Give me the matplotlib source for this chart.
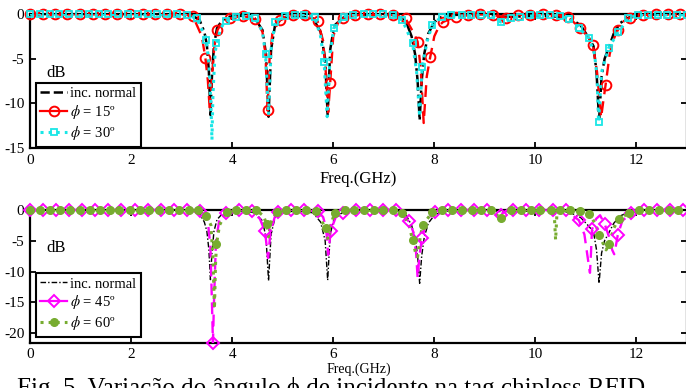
import matplotlib
matplotlib.use("Agg")
import matplotlib.pyplot as plt
from matplotlib.lines import Line2D

plt.rcParams["font.family"] = ["Liberation Serif", "DejaVu Serif"]
plt.rcParams["mathtext.fontset"] = "stix"
plt.rcParams["axes.unicode_minus"] = False

# --- data (Freq in GHz, response in dB) ---
blk_f = [0, 3.0, 3.2, 3.35, 3.45, 3.5, 3.54, 3.57, 3.60, 3.64, 3.7, 3.8, 3.95, 4.2, 4.45, 4.6,
         4.67, 4.72, 4.77, 4.85, 5.0, 5.3, 5.6, 5.75, 5.84, 5.89, 5.94, 6.02, 6.2, 6.5, 7.0, 7.3,
         7.45, 7.55, 7.62, 7.67, 7.71, 7.75, 7.8, 7.88, 8.0, 8.15, 8.4, 9.0, 9.3, 9.6, 10.0, 10.5,
         10.7, 10.9, 11.06, 11.15, 11.21, 11.26, 11.31, 11.37, 11.45, 11.55, 11.68, 11.85, 12.1, 13.0]
blk_db = [0, 0, -0.2, -0.6, -2.0, -3.5, -6.5, -11.3, -7.0, -3.5, -1.6, -0.7, -0.3, -0.2, -0.5, -1.8,
          -4.5, -11.5, -4.0, -1.2, -0.4, -0.2, -0.5, -2.0, -5.0, -11.4, -4.0, -1.3, -0.4, -0.1, 0, -0.2,
          -1.0, -2.5, -4.5, -7.5, -11.9, -7.5, -4.5, -2.2, -0.9, -0.3, -0.1, 0, -0.3, -0.3, -0.2, -0.3,
          -0.5, -1.3, -2.7, -3.6, -6.5, -11.9, -7.0, -5.0, -3.8, -2.2, -1.0, -0.4, -0.1, 0]

red_f = [0, 3.0, 3.22, 3.4, 3.47, 3.52, 3.56, 3.6, 3.65, 3.71, 3.8, 3.96, 4.21, 4.46, 4.6, 4.66,
         4.70, 4.74, 4.8, 4.95, 5.2, 5.45, 5.69, 5.8, 5.86, 5.9, 5.94, 6.0, 6.1, 6.19, 6.44, 7.18,
         7.43, 7.6, 7.67, 7.73, 7.79, 7.85, 7.92, 8.0, 8.1, 8.17, 8.42, 8.91, 9.16, 9.41, 9.65, 10.15,
         10.4, 10.64, 10.89, 11.05, 11.14, 11.22, 11.3, 11.35, 11.39, 11.47, 11.55, 11.63, 11.75, 11.88,
         12.13, 13.0]
red_db = [0, 0, -0.2, -2.5, -4.9, -7.5, -11.0, -7.0, -3.5, -1.8, -0.9, -0.5, -0.2, -0.6, -2.0, -4.5,
          -10.8, -5.0, -2.0, -0.7, -0.1, -0.1, -0.8, -3.0, -7.0, -11.0, -7.7, -2.5, -0.9, -0.5, -0.1, -0.1,
          -0.5, -2.2, -3.1, -6.0, -12.2, -7.0, -4.8, -2.5, -1.3, -0.9, -0.3, 0, -0.1, -0.4, -0.1, 0,
          -0.1, -0.3, -1.6, -2.6, -3.5, -6.5, -11.6, -9.5, -7.9, -4.5, -2.8, -1.8, -0.8, -0.4,
          -0.1, 0]
red_mf = [0, 0.25, 0.50, 0.74, 0.99, 1.24, 1.49, 1.73, 1.98, 2.23, 2.48, 2.72, 2.97, 3.22, 3.47,
          3.71, 3.96, 4.21, 4.46, 4.70, 4.95, 5.20, 5.45, 5.69, 5.94, 6.19, 6.44, 6.68, 6.93, 7.18,
          7.43, 7.67, 7.92, 8.17, 8.42, 8.66, 8.91, 9.16, 9.41, 9.65, 9.90, 10.15, 10.40, 10.64,
          10.89, 11.14, 11.39, 11.63, 11.88, 12.13, 12.38, 12.62, 12.87]
red_mdb = [0, 0, 0, 0, 0, 0, 0, 0, 0, 0, 0, 0, 0, -0.2, -4.9,
           -1.8, -0.5, -0.2, -0.6, -10.8, -0.7, -0.1, -0.1, -0.8, -7.7, -0.5, -0.1, 0, 0, -0.1,
           -0.5, -3.1, -4.8, -0.9, -0.3, -0.1, 0, -0.1, -0.4, -0.1, -0.1, 0, -0.1, -0.3,
           -1.6, -3.5, -7.9, -1.8, -0.4, -0.1, 0, 0, 0]

cy_f = [0, 3.1, 3.3, 3.49, 3.54, 3.58, 3.60, 3.62, 3.66, 3.69, 3.78, 3.88, 4.07, 4.27, 4.46, 4.6,
        4.66, 4.72, 4.77, 4.85, 5.04, 5.43, 5.63, 5.75, 5.82, 5.88, 5.94, 6.01, 6.21, 6.4, 7.18, 7.37,
        7.57, 7.65, 7.71, 7.76, 7.86, 7.96, 8.15, 9.12, 9.31, 9.51, 9.70, 10.28, 10.48, 10.67, 10.87,
        11.06, 11.17, 11.22, 11.25, 11.31, 11.45, 11.64, 11.84, 12.03, 13.0]
cy_db = [0, -0.1, -0.5, -2.9, -5.5, -10.0, -14.1, -9.0, -4.5, -3.3, -1.5, -0.8, -0.3, -0.2, -0.4, -2.0,
         -4.5, -11.3, -4.0, -0.9, -0.2, -0.1, -0.3, -2.5, -5.4, -11.5, -4.5, -1.6, -0.3, -0.1, -0.1, -0.7,
         -3.3, -6.5, -11.5, -5.9, -3.0, -1.2, -0.3, -0.1, -0.9, -0.5, -0.3, -0.1, -0.2, -0.6, -1.6,
         -2.7, -4.5, -7.0, -12.1, -6.5, -3.8, -2.0, -0.5, -0.1, -0.1]
cy_mf = [0, 0.19, 0.39, 0.58, 0.78, 0.97, 1.16, 1.36, 1.55, 1.75, 1.94, 2.13, 2.33, 2.52, 2.72,
         2.91, 3.10, 3.30, 3.49, 3.69, 3.88, 4.07, 4.27, 4.46, 4.66, 4.85, 5.04, 5.24, 5.43, 5.63,
         5.82, 6.01, 6.21, 6.40, 6.60, 6.79, 6.99, 7.18, 7.37, 7.57, 7.76, 7.96, 8.15, 8.34, 8.54,
         8.73, 8.93, 9.12, 9.31, 9.51, 9.70, 9.89, 10.09, 10.28, 10.48, 10.67, 10.87, 11.06, 11.25,
         11.45, 11.64, 11.84, 12.03, 12.22, 12.42, 12.61, 12.81, 13.00]
cy_mdb = [0, 0, 0, 0, 0, 0, 0, 0, 0, 0, 0, 0, 0, 0, 0,
          0, -0.1, -0.5, -2.9, -3.3, -0.8, -0.3, -0.2, -0.4, -4.5, -0.9, -0.2, -0.1, -0.1, -0.3,
          -5.4, -1.6, -0.3, -0.1, 0, 0, 0, -0.1, -0.7, -3.3, -5.9, -1.2, -0.3, -0.1, -0.1,
          -0.1, -0.1, -0.1, -0.9, -0.5, -0.3, -0.1, -0.1, -0.1, -0.2, -0.6, -1.6, -2.7, -12.1,
          -3.8, -2.0, -0.5, -0.1, -0.1, -0.1, -0.1, -0.1, -0.1]

mg_f = [0, 3.1, 3.36, 3.45, 3.52, 3.57, 3.6, 3.62, 3.64, 3.68, 3.75, 3.88, 4.14, 4.39, 4.55, 4.65,
        4.71, 4.76, 4.85, 4.91, 5.17, 5.69, 5.8, 5.86, 5.9, 5.95, 6.05, 6.2, 6.46, 7.24, 7.5, 7.58,
        7.64, 7.67, 7.7, 7.73, 7.76, 7.85, 8.01, 8.2, 9.15, 9.31, 9.45, 10.34, 10.6, 10.86, 10.97,
        11.04, 11.08, 11.1, 11.12, 11.2, 11.28, 11.37, 11.45, 11.52, 11.56, 11.6, 11.63, 11.72,
        11.89, 12.1, 13.0]
mg_db = [0, 0, -0.2, -0.8, -2.0, -6.0, -15.0, -21.5, -15.0, -5.0, -1.5, -0.5, 0, -0.2, -1.5, -3.5,
         -7.8, -3.5, -1.0, -0.4, 0, -0.2, -1.2, -3.0, -7.3, -3.4, -1.2, -0.5, 0, 0, -1.9, -3.5,
         -7.0, -11.0, -8.0, -6.0, -4.5, -1.8, -0.3, 0, 0, -0.8, 0, 0, -0.1, -1.7, -4.0,
         -8.0, -10.2, -7.0, -3.2, -1.5, -0.9, -2.3, -4.2, -6.5, -7.2, -5.5, -4.1, -1.8,
         -0.6, -0.1, 0]
mg_mf = [0, 0.26, 0.52, 0.78, 1.03, 1.29, 1.55, 1.81, 2.07, 2.33, 2.59, 2.84, 3.10, 3.36, 3.62,
         3.88, 4.14, 4.39, 4.65, 4.91, 5.17, 5.43, 5.69, 5.95, 6.20, 6.46, 6.72, 6.98, 7.24, 7.50,
         7.76, 8.01, 8.27, 8.53, 8.79, 9.05, 9.31, 9.56, 9.82, 10.08, 10.34, 10.60, 10.86, 11.12,
         11.37, 11.63, 11.89, 12.15, 12.41, 12.67, 12.92]
mg_mdb = [0, 0, 0, 0, 0, 0, 0, 0, 0, 0, 0, 0, 0, -0.2, -21.5,
          -0.5, 0, -0.2, -3.5, -0.4, 0, 0, -0.2, -3.4, -0.5, 0, 0, 0, 0, -1.9,
          -4.5, -0.3, 0, 0, 0, 0, -0.8, 0, 0, 0, 0, -0.1, -1.7, -3.2,
          -2.3, -4.1, -0.6, 0, 0, 0, 0]

gr_f = [0, 3.15, 3.32, 3.49, 3.58, 3.62, 3.65, 3.67, 3.69, 3.75, 3.89, 4.08, 4.48, 4.62, 4.68, 4.72,
        4.77, 4.88, 5.07, 5.66, 5.85, 5.9, 5.95, 6.03, 6.23, 7.18, 7.37, 7.5, 7.57, 7.63, 7.67, 7.72,
        7.77, 7.96, 8.15, 9.13, 9.32, 9.52, 10.37, 10.40, 10.43, 10.88, 11.07, 11.2, 11.26, 11.4,
        11.46, 11.55, 11.65, 11.86, 12.05, 13.0]
gr_db = [0, 0, -0.1, -1.0, -2.5, -8.0, -16.0, -9.0, -5.6, -2.5, -0.3, -0.1, -0.1, -1.0, -2.3, -4.4,
         -2.0, -0.4, 0, -0.2, -3.0, -4.9, -2.5, -0.5, -0.1, -0.1, -0.6, -2.5, -4.9, -7.0, -7.6, -4.5,
         -2.5, -0.4, -0.1, -0.1, -1.4, -0.1, -0.1, -4.9, -0.1, -0.2, -0.7, -2.5, -4.1, -6.5,
         -5.5, -3.0, -1.5, -0.5, -0.1, 0]
gr_mf = [0, 0.2, 0.39, 0.59, 0.79, 0.98, 1.18, 1.38, 1.58, 1.77, 1.97, 2.17, 2.36, 2.56, 2.76,
         2.95, 3.15, 3.32, 3.49, 3.69, 3.89, 4.08, 4.28, 4.48, 4.68, 4.88, 5.07, 5.27, 5.46, 5.66,
         5.85, 6.03, 6.23, 6.42, 6.6, 6.8, 6.99, 7.18, 7.37, 7.57, 7.77, 7.96, 8.15, 8.35, 8.54,
         8.74, 8.93, 9.13, 9.32, 9.52, 9.71, 9.91, 10.1, 10.3, 10.49, 10.69, 10.88, 11.07, 11.26,
         11.46, 11.65, 11.86, 12.05, 12.25, 12.44, 12.64, 12.83]
gr_mdb = [0, 0, 0, 0, 0, 0, 0, 0, 0, 0, 0, 0, 0, 0, 0,
          0, 0, -0.1, -1.0, -5.6, -0.3, -0.1, 0, -0.1, -2.3, -0.4, 0, 0, 0, -0.2,
          -3.0, -0.5, -0.1, 0, 0, 0, 0, -0.1, -0.6, -4.9, -2.5, -0.4, -0.1, 0, 0,
          0, 0, -0.1, -1.4, -0.1, 0, 0, 0, 0, 0, 0, -0.2, -0.7, -4.1,
          -5.5, -1.5, -0.5, -0.1, 0, 0, 0, 0]

xticks = [0, 2, 4, 6, 8, 10, 12]
caption = "Fig. 5. Variação do ângulo ϕ de incidente na tag chipless RFID"

RED = "#ff0000"
CYAN = "#19e6e6"
MAG = "#ff00ff"
GRN = "#77ac30"

fig = plt.figure(figsize=(6.86, 3.88), dpi=100)
W = 657 / 686
ax1 = fig.add_axes([30 / 686, 1 - 148 / 388, W, 134 / 388])
ax2 = fig.add_axes([30 / 686, 1 - 342.7 / 388, W, 133 / 388])

leg_kw = dict(loc="lower left", fontsize=10.5, handlelength=1.85, handletextpad=0.2,
              labelspacing=0.2, borderpad=0.3, borderaxespad=0, fancybox=False,
              framealpha=1, edgecolor="k")

# top panel
ax1.plot(blk_f, blk_db, color="k", ls="-.", lw=1.8, zorder=3)
ax1.plot(red_f, red_db, color=RED, ls=(0, (5, 3)), lw=1.7, zorder=4)
ax1.plot(red_mf, red_mdb, ls="none", marker="o", ms=7, mfc="none", mec=RED, mew=1.4,
         zorder=5, clip_on=False)
ax1.plot(cy_f, cy_db, color=CYAN, ls=":", lw=2.2, zorder=6)
ax1.plot(cy_mf, cy_mdb, ls="none", marker="s", ms=4.5, mfc="none", mec=CYAN, mew=1.3,
         zorder=7, clip_on=False)
ax1.set_ylim(-15, 0)
ax1.set_yticks([0, -5, -10, -15])
ax1.set_xlabel("Freq.(GHz)", fontsize=12, labelpad=3)
ax1.text(0.04, 0.56, "dB", transform=ax1.transAxes, fontsize=12, ha="center", va="center")
h1 = [Line2D([], [], color="k", ls="--", lw=1.8),
      Line2D([], [], color=RED, ls="-", lw=1.6, marker="o", ms=7, mfc="none", mec=RED, mew=1.4),
      Line2D([], [], color=CYAN, ls=":", lw=2.2, marker="s", ms=4.5, mfc="none", mec=CYAN, mew=1.3)]
l1 = ["inc. normal", r"$\phi$ = 15º", r"$\phi$ = 30º"]
leg1 = ax1.legend(h1, l1, bbox_to_anchor=(0.009, 0.01), **leg_kw)
leg1.get_frame().set_linewidth(1.5)

# bottom panel
ax2.plot(blk_f, blk_db, color="k", ls=(0, (4, 1.5, 1, 1.5)), lw=1.0, zorder=3)
ax2.plot(mg_f, mg_db, color=MAG, ls=(0, (5, 3)), lw=1.7, zorder=4)
ax2.plot(mg_mf, mg_mdb, ls="none", marker="D", ms=6, mfc="none", mec=MAG, mew=1.4,
         zorder=6, clip_on=False)
ax2.plot(gr_f, gr_db, color=GRN, ls=":", lw=2.2, zorder=5)
ax2.plot(gr_mf, gr_mdb, ls="none", marker="o", ms=5.5, mfc=GRN, mec=GRN,
         zorder=7, clip_on=False)
ax2.set_ylim(-21.5, 0)
ax2.set_yticks([0, -5, -10, -15, -20])
ax2.set_xlabel("Freq.(GHz)", fontsize=10, labelpad=1)
ax2.text(0.04, 0.71, "dB", transform=ax2.transAxes, fontsize=12, ha="center", va="center")
h2 = [Line2D([], [], color="k", ls=(0, (4, 1.5, 1, 1.5)), lw=1.0),
      Line2D([], [], color=MAG, ls="-", lw=1.6, marker="D", ms=6, mfc="none", mec=MAG, mew=1.4),
      Line2D([], [], color=GRN, ls=":", lw=2.2, marker="o", ms=5.5, mfc=GRN, mec=GRN)]
l2 = ["inc. normal", r"$\phi$ = 45º", r"$\phi$ = 60º"]
leg2 = ax2.legend(h2, l2, bbox_to_anchor=(0.009, 0.045), **leg_kw)
leg2.get_frame().set_linewidth(1.5)

for ax in (ax1, ax2):
    ax.set_xlim(0, 13)
    ax.set_xticks(xticks)
    ax.tick_params(direction="in", top=True, right=True, length=4, width=1.3,
                   labelsize=11, pad=4)
    for s in ax.spines.values():
        s.set_linewidth(1.6)

# caption, cut by the lower edge as in the source image
fig.text(17 / 686, 1 - 377.5 / 388, caption, fontsize=18, ha="left", va="top")

fig.savefig("out.png", dpi=100)
